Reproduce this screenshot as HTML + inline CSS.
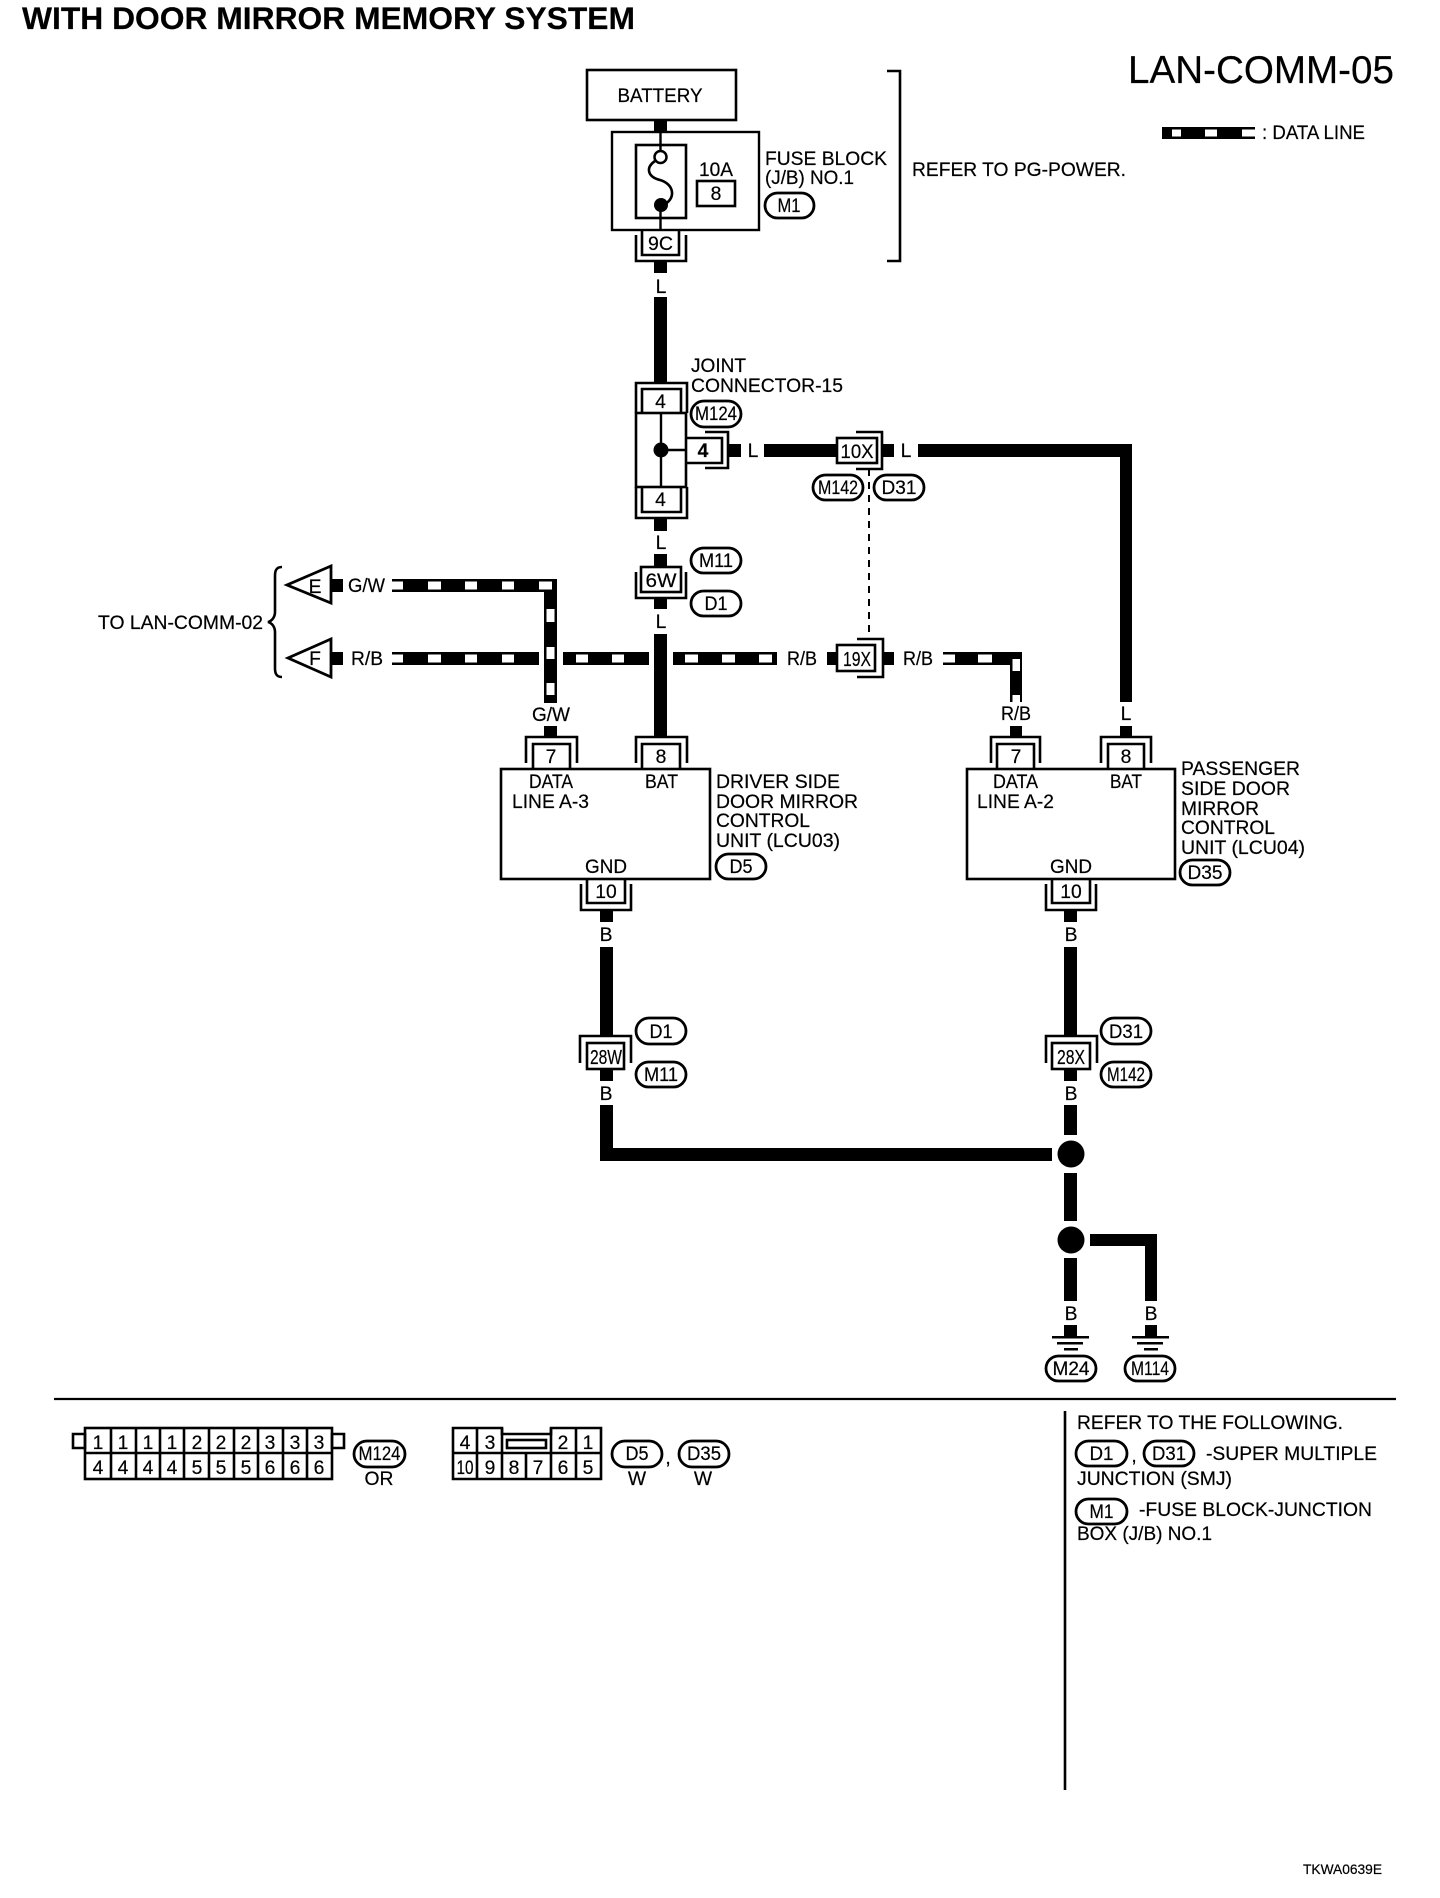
<!DOCTYPE html>
<html><head><meta charset="utf-8"><title>LAN-COMM-05</title>
<style>
html,body{margin:0;padding:0;background:#fff}
svg{display:block}
text{font-family:"Liberation Sans",Arial,sans-serif;font-size:19.3px;fill:#000;stroke:#000;stroke-width:.2}
.m{text-anchor:middle}
.l{fill:none;stroke:#000;stroke-width:2.6}
.p{fill:#fff;stroke:#000;stroke-width:2.8}
.t{fill:none;stroke:#000;stroke-width:2.4}
</style></head><body>
<svg xmlns="http://www.w3.org/2000/svg" width="1440" height="1898" viewBox="0 0 1440 1898">
<rect width="1440" height="1898" fill="#fff"/>
<text x="22" y="29" style="font-size:31.5px;font-weight:bold" textLength="613" lengthAdjust="spacingAndGlyphs">WITH DOOR MIRROR MEMORY SYSTEM</text>
<text x="1128" y="83" style="font-size:38.5px" textLength="266" lengthAdjust="spacingAndGlyphs">LAN-COMM-05</text>
<!-- legend -->
<rect x="1162" y="127" width="93" height="12" fill="#000"/>
<rect x="1172" y="129.500" width="9" height="7" fill="#fff"/><rect x="1205" y="129.500" width="12" height="7" fill="#fff"/><rect x="1242" y="129.500" width="14" height="7" fill="#fff"/>
<text x="1262" y="139" textLength="103" lengthAdjust="spacingAndGlyphs">: DATA LINE</text>

<!-- solid wires -->
<g fill="#000">
<rect x="654" y="120" width="13" height="12"/>
<rect x="654" y="261" width="13" height="12"/>
<rect x="654" y="297" width="13" height="86"/>
<rect x="654" y="518" width="13" height="13"/>
<rect x="654" y="554" width="13" height="13"/>
<rect x="654" y="598" width="13" height="11"/>
<rect x="654" y="634" width="13" height="103"/>
<rect x="728" y="444" width="13" height="13"/>
<rect x="764" y="444" width="73" height="13"/>
<rect x="882" y="444" width="12" height="13"/>
<rect x="918" y="444" width="214" height="13"/>
<rect x="1120" y="444" width="12" height="258"/>
<rect x="1120" y="726" width="12" height="11"/>
<rect x="331" y="579" width="12" height="13"/>
<rect x="331" y="652" width="12" height="13"/>
<rect x="827" y="652" width="10" height="13"/>
<rect x="883" y="652" width="11" height="13"/>
<rect x="544" y="726" width="13" height="11"/>
<rect x="1010" y="726" width="12" height="11"/>
<!-- lower wires -->
<rect x="600" y="910" width="13" height="12"/>
<rect x="600" y="947" width="13" height="90"/>
<rect x="600" y="1069" width="13" height="12"/>
<rect x="600" y="1105" width="13" height="56"/>
<rect x="600" y="1148" width="452" height="13"/>
<rect x="1064" y="910" width="13" height="12"/>
<rect x="1064" y="947" width="13" height="90"/>
<rect x="1064" y="1069" width="13" height="12"/>
<rect x="1064" y="1105" width="13" height="30"/>
<rect x="1064" y="1173" width="13" height="48"/>
<rect x="1064" y="1258" width="13" height="43"/>
<rect x="1064" y="1325" width="13" height="12"/>
<rect x="1090" y="1234" width="67" height="12"/>
<rect x="1145" y="1234" width="12" height="67"/>
<rect x="1145" y="1325" width="12" height="12"/>
<ellipse cx="1071" cy="1154" rx="13.500" ry="13.500"/>
<ellipse cx="1071" cy="1240" rx="13.500" ry="13.500"/>
<!-- ground -->
<rect x="1052" y="1336" width="37" height="2.500"/><rect x="1057" y="1342" width="26" height="2.500"/><rect x="1064" y="1348" width="14" height="2.500"/>
<rect x="1132" y="1336" width="37" height="2.500"/><rect x="1137" y="1342" width="26" height="2.500"/><rect x="1144" y="1348" width="14" height="2.500"/>
<!-- data lines black -->
<rect x="392" y="579" width="165" height="13"/>
<rect x="544" y="579" width="13" height="124"/>
<rect x="392" y="652" width="147" height="13"/>
<rect x="563" y="652" width="86" height="13"/>
<rect x="673" y="652" width="104" height="13"/>
<rect x="760" y="652" width="17" height="13"/>
<rect x="943" y="652" width="79" height="13"/>
<rect x="1010" y="652" width="12" height="50"/>
</g>
<!-- data line white squares -->
<g fill="#fff">
<rect x="390" y="581.500" width="13" height="8"/><rect x="428" y="581.500" width="13" height="8"/><rect x="465" y="581.500" width="12" height="8"/><rect x="502" y="581.500" width="12" height="8"/><rect x="539" y="581.500" width="13" height="8"/>
<rect x="546.500" y="609" width="8" height="13"/><rect x="546.500" y="647" width="8" height="12"/><rect x="546.500" y="683" width="8" height="12"/>
<rect x="390" y="654.500" width="13" height="8"/><rect x="428" y="654.500" width="13" height="8"/><rect x="465" y="654.500" width="12" height="8"/><rect x="502" y="654.500" width="12" height="8"/>
<rect x="576" y="654.500" width="12" height="8"/><rect x="612" y="654.500" width="12" height="8"/>
<rect x="685" y="654.500" width="13" height="8"/><rect x="722" y="654.500" width="13" height="8"/><rect x="759" y="654.500" width="13" height="8"/>
<rect x="941" y="654.500" width="14" height="8"/><rect x="978" y="654.500" width="14" height="8"/>
<rect x="1012.500" y="659" width="7.500" height="12"/><rect x="1012.500" y="695" width="7.500" height="8"/>
</g>

<!-- battery and fuse block -->
<rect x="587" y="70" width="149" height="50" class="l" fill="none"/>
<text x="660" y="102" class="m" textLength="85" lengthAdjust="spacingAndGlyphs">BATTERY</text>
<rect x="612" y="132" width="147" height="98" class="t"/>
<rect x="636" y="145" width="50" height="73" class="l"/>
<path d="M660.500 132V151M660.500 210V230" class="t"/>
<circle cx="660.500" cy="157" r="6" fill="#fff" stroke="#000" stroke-width="2.500"/>
<circle cx="661" cy="205" r="7" fill="#000"/>
<path d="M655 161C645 168 648 177 660 180C674 184 676 198 665 204" class="l"/>
<text x="716" y="176" class="m" textLength="34" lengthAdjust="spacingAndGlyphs">10A</text>
<rect x="697" y="181" width="38" height="25" class="l"/>
<text x="716" y="200" class="m">8</text>
<text x="765" y="165" textLength="122" lengthAdjust="spacingAndGlyphs">FUSE BLOCK</text>
<text x="765" y="184" textLength="89" lengthAdjust="spacingAndGlyphs">(J/B) NO.1</text>
<rect x="765" y="193" width="49" height="25" rx="12.500" class="p"/>
<text x="789" y="212" class="m" textLength="23" lengthAdjust="spacingAndGlyphs">M1</text>
<path d="M887 71H900V261H887" class="l"/>
<text x="912" y="176" textLength="214" lengthAdjust="spacingAndGlyphs">REFER TO PG-POWER.</text>
<!-- 9C -->
<path d="M642 230V255H679V230" class="l"/>
<path d="M636 235V261H686V235" class="l"/>
<text x="660.500" y="250" class="m" textLength="25" lengthAdjust="spacingAndGlyphs">9C</text>
<text x="661" y="293" class="m">L</text>

<!-- joint connector -->
<text x="691" y="372" textLength="55" lengthAdjust="spacingAndGlyphs">JOINT</text>
<text x="691" y="392" textLength="152" lengthAdjust="spacingAndGlyphs">CONNECTOR-15</text>
<path d="M636 413V383H687V413" class="l"/>
<path d="M642 413V389H681V413" class="l"/>
<text x="660.500" y="408" class="m">4</text>
<rect x="636" y="413" width="50" height="74" class="l"/>
<path d="M661 413V487M661 450H687" class="t"/>
<circle cx="661" cy="450" r="7.500" fill="#000"/>
<path d="M642 487V512H681V487" class="l"/>
<path d="M636 487V518H687V487" class="l"/>
<text x="660.500" y="506" class="m">4</text>
<path d="M687 438H722V463H687" class="l"/>
<path d="M705 432H728V468H705" class="l"/>
<text x="703" y="457" class="m" style="font-weight:bold">4</text>
<text x="753" y="457" class="m">L</text>
<rect x="691" y="401" width="50" height="26" rx="13" class="p"/>
<text x="716" y="420" class="m" textLength="42" lengthAdjust="spacingAndGlyphs">M124</text>

<!-- 10X -->
<rect x="837" y="438" width="40" height="25" fill="#fff" class="l"/>
<path d="M856 432H882V469H856" class="l"/>
<text x="857" y="458" class="m" textLength="33" lengthAdjust="spacingAndGlyphs">10X</text>
<text x="906" y="457" class="m">L</text>
<rect x="813" y="475" width="50" height="25" rx="12.500" class="p"/>
<text x="838" y="494" class="m" textLength="40" lengthAdjust="spacingAndGlyphs">M142</text>
<rect x="874" y="475" width="50" height="25" rx="12.500" class="p"/>
<text x="899" y="494" class="m" textLength="35" lengthAdjust="spacingAndGlyphs">D31</text>
<path d="M869 469V639" fill="none" stroke="#000" stroke-width="2" stroke-dasharray="7 6"/>

<!-- 6W -->
<text x="661" y="549" class="m">L</text>
<rect x="641" y="567" width="40" height="25" fill="#fff" class="l"/>
<path d="M636 572V598H686V572" class="l"/>
<text x="661" y="587" class="m" textLength="31" lengthAdjust="spacingAndGlyphs">6W</text>
<text x="661" y="628" class="m">L</text>
<rect x="691" y="548" width="50" height="25" rx="12.500" class="p"/>
<text x="716" y="567" class="m" textLength="34" lengthAdjust="spacingAndGlyphs">M11</text>
<rect x="691" y="591" width="50" height="25" rx="12.500" class="p"/>
<text x="716" y="610" class="m" textLength="23" lengthAdjust="spacingAndGlyphs">D1</text>

<!-- left triangles -->
<path d="M282 567C276 567 275 571 275 576V612C275 617 272 621 268 622C272 623 275 627 275 632V668C275 673 276 677 282 677" class="l"/>
<text x="98" y="629" textLength="165" lengthAdjust="spacingAndGlyphs">TO LAN-COMM-02</text>
<path d="M331 566L287 585L331 603Z" class="p"/>
<path d="M331 639L288 658L331 677Z" class="p"/>
<text x="315" y="593" class="m">E</text>
<text x="315" y="665" class="m">F</text>
<text x="348" y="592" textLength="37" lengthAdjust="spacingAndGlyphs">G/W</text>
<text x="351" y="665" textLength="32" lengthAdjust="spacingAndGlyphs">R/B</text>
<text x="787" y="665" textLength="30" lengthAdjust="spacingAndGlyphs">R/B</text>
<text x="903" y="665" textLength="30" lengthAdjust="spacingAndGlyphs">R/B</text>
<text x="551" y="721" class="m" textLength="38" lengthAdjust="spacingAndGlyphs">G/W</text>
<text x="1016" y="720" class="m" textLength="30" lengthAdjust="spacingAndGlyphs">R/B</text>
<text x="1126" y="720" class="m">L</text>

<!-- 19X -->
<rect x="837" y="645" width="38" height="26" fill="#fff" class="l"/>
<path d="M857 639H883V677H857" class="l"/>
<text x="857" y="666" class="m" style="font-size:20px" textLength="28" lengthAdjust="spacingAndGlyphs">19X</text>

<!-- driver unit -->
<path d="M526 763V737H577V763" class="l"/>
<path d="M533 769V744H570V769" class="l"/>
<text x="551" y="763" class="m">7</text>
<path d="M636 763V737H687V763" class="l"/>
<path d="M642 769V744H680V769" class="l"/>
<text x="661" y="763" class="m">8</text>
<rect x="501" y="769" width="209" height="110" class="l"/>
<text x="529" y="788" textLength="44" lengthAdjust="spacingAndGlyphs">DATA</text>
<text x="645" y="788" textLength="33" lengthAdjust="spacingAndGlyphs">BAT</text>
<text x="512" y="808" textLength="77" lengthAdjust="spacingAndGlyphs">LINE A-3</text>
<text x="585" y="873" textLength="42" lengthAdjust="spacingAndGlyphs">GND</text>
<path d="M587 879V903H625V879" class="l"/>
<path d="M581 884V910H631V884" class="l"/>
<text x="606" y="898" class="m">10</text>
<text x="606" y="941" class="m">B</text>
<text x="716" y="788" textLength="124" lengthAdjust="spacingAndGlyphs">DRIVER SIDE</text>
<text x="716" y="808" textLength="142" lengthAdjust="spacingAndGlyphs">DOOR MIRROR</text>
<text x="716" y="827" textLength="94" lengthAdjust="spacingAndGlyphs">CONTROL</text>
<text x="716" y="847" textLength="124" lengthAdjust="spacingAndGlyphs">UNIT (LCU03)</text>
<rect x="716" y="854" width="50" height="25" rx="12.500" class="p"/>
<text x="741" y="873" class="m" textLength="23" lengthAdjust="spacingAndGlyphs">D5</text>

<!-- passenger unit -->
<path d="M991 763V737H1040V763" class="l"/>
<path d="M997 769V744H1034V769" class="l"/>
<text x="1016" y="763" class="m">7</text>
<path d="M1101 763V737H1151V763" class="l"/>
<path d="M1108 769V744H1144V769" class="l"/>
<text x="1126" y="763" class="m">8</text>
<rect x="967" y="769" width="208" height="110" class="l"/>
<text x="993" y="788" textLength="45" lengthAdjust="spacingAndGlyphs">DATA</text>
<text x="1110" y="788" textLength="32" lengthAdjust="spacingAndGlyphs">BAT</text>
<text x="977" y="808" textLength="77" lengthAdjust="spacingAndGlyphs">LINE A-2</text>
<text x="1050" y="873" textLength="42" lengthAdjust="spacingAndGlyphs">GND</text>
<path d="M1052 879V903H1090V879" class="l"/>
<path d="M1046 884V910H1096V884" class="l"/>
<text x="1071" y="898" class="m">10</text>
<text x="1071" y="941" class="m">B</text>
<text x="1181" y="775" textLength="119" lengthAdjust="spacingAndGlyphs">PASSENGER</text>
<text x="1181" y="795" textLength="109" lengthAdjust="spacingAndGlyphs">SIDE DOOR</text>
<text x="1181" y="815" textLength="78" lengthAdjust="spacingAndGlyphs">MIRROR</text>
<text x="1181" y="834" textLength="94" lengthAdjust="spacingAndGlyphs">CONTROL</text>
<text x="1181" y="854" textLength="124" lengthAdjust="spacingAndGlyphs">UNIT (LCU04)</text>
<rect x="1180" y="860" width="50" height="25" rx="12.500" class="p"/>
<text x="1205" y="879" class="m" textLength="35" lengthAdjust="spacingAndGlyphs">D35</text>

<!-- 28W/28X -->
<path d="M580 1063V1036H631V1063" class="l"/>
<rect x="587" y="1043" width="37" height="26" fill="#fff" class="l"/>
<text x="606" y="1064" class="m" style="font-size:20px" textLength="32" lengthAdjust="spacingAndGlyphs">28W</text>
<text x="606" y="1100" class="m">B</text>
<rect x="636" y="1018" width="50" height="26" rx="13" class="p"/>
<text x="661" y="1038" class="m" textLength="23" lengthAdjust="spacingAndGlyphs">D1</text>
<rect x="636" y="1062" width="50" height="25" rx="12.500" class="p"/>
<text x="661" y="1081" class="m" textLength="34" lengthAdjust="spacingAndGlyphs">M11</text>
<path d="M1046 1063V1036H1097V1063" class="l"/>
<rect x="1052" y="1043" width="38" height="26" fill="#fff" class="l"/>
<text x="1071" y="1064" class="m" style="font-size:20px" textLength="28" lengthAdjust="spacingAndGlyphs">28X</text>
<text x="1071" y="1100" class="m">B</text>
<rect x="1101" y="1018" width="50" height="26" rx="13" class="p"/>
<text x="1126" y="1038" class="m" textLength="34" lengthAdjust="spacingAndGlyphs">D31</text>
<rect x="1101" y="1062" width="50" height="25" rx="12.500" class="p"/>
<text x="1126" y="1081" class="m" textLength="38" lengthAdjust="spacingAndGlyphs">M142</text>
<text x="1071" y="1320" class="m">B</text>
<text x="1151" y="1320" class="m">B</text>
<rect x="1046" y="1356" width="50" height="25" rx="12.500" class="p"/>
<text x="1071" y="1375" class="m" textLength="37" lengthAdjust="spacingAndGlyphs">M24</text>
<rect x="1125" y="1356" width="50" height="25" rx="12.500" class="p"/>
<text x="1150" y="1375" class="m" textLength="38" lengthAdjust="spacingAndGlyphs">M114</text>

<!-- separators -->
<path d="M54 1399H1396" fill="none" stroke="#000" stroke-width="2.200"/>
<path d="M1065 1411V1790" class="l"/>

<!-- M124 connector face -->
<path d="M73 1434H85V1448H73ZM332 1434H344V1448H332Z" class="l"/>
<rect x="85" y="1428" width="247" height="51" fill="#fff" class="l"/>
<path d="M85 1453H332M111 1428V1479M136 1428V1479M160 1428V1479M184 1428V1479M209 1428V1479M234 1428V1479M258 1428V1479M283 1428V1479M307 1428V1479" class="l"/>
<g class="m">
<text x="98" y="1449">1</text><text x="123" y="1449">1</text><text x="148" y="1449">1</text><text x="172" y="1449">1</text><text x="197" y="1449">2</text><text x="221" y="1449">2</text><text x="246" y="1449">2</text><text x="270" y="1449">3</text><text x="295" y="1449">3</text><text x="319" y="1449">3</text>
<text x="98" y="1474">4</text><text x="123" y="1474">4</text><text x="148" y="1474">4</text><text x="172" y="1474">4</text><text x="197" y="1474">5</text><text x="221" y="1474">5</text><text x="246" y="1474">5</text><text x="270" y="1474">6</text><text x="295" y="1474">6</text><text x="319" y="1474">6</text>
</g>
<rect x="354" y="1441" width="51" height="26" rx="13" class="p"/>
<text x="379.500" y="1460" class="m" textLength="42" lengthAdjust="spacingAndGlyphs">M124</text>
<text x="379" y="1485" class="m">OR</text>

<!-- D5/D35 connector face -->
<path d="M453 1428H502V1434H551V1428H601V1479H453Z" class="l"/>
<path d="M453 1453H601M477 1428V1479M502 1428V1479M526 1453V1479M551 1428V1479M576 1428V1479" class="l"/>
<rect x="507" y="1440" width="39" height="8" class="l"/>
<g class="m">
<text x="465" y="1449">4</text><text x="490" y="1449">3</text><text x="563" y="1449">2</text><text x="588" y="1449">1</text>
<text x="465" y="1474" textLength="17" lengthAdjust="spacingAndGlyphs">10</text><text x="490" y="1474">9</text><text x="514" y="1474">8</text><text x="538" y="1474">7</text><text x="563" y="1474">6</text><text x="588" y="1474">5</text>
</g>
<rect x="612" y="1441" width="50" height="26" rx="13" class="p"/>
<text x="637" y="1460" class="m" textLength="23" lengthAdjust="spacingAndGlyphs">D5</text>
<text x="668" y="1464" class="m">,</text>
<rect x="679" y="1441" width="50" height="26" rx="13" class="p"/>
<text x="704" y="1460" class="m" textLength="34" lengthAdjust="spacingAndGlyphs">D35</text>
<text x="637" y="1485" class="m">W</text>
<text x="703" y="1485" class="m">W</text>

<!-- notes -->
<text x="1077" y="1429" textLength="266" lengthAdjust="spacingAndGlyphs">REFER TO THE FOLLOWING.</text>
<rect x="1076" y="1441" width="51" height="25" rx="12.500" class="p"/>
<text x="1101.500" y="1460" class="m" textLength="24" lengthAdjust="spacingAndGlyphs">D1</text>
<text x="1134" y="1462" class="m">,</text>
<rect x="1144" y="1441" width="50" height="25" rx="12.500" class="p"/>
<text x="1169" y="1460" class="m" textLength="34" lengthAdjust="spacingAndGlyphs">D31</text>
<text x="1206" y="1460" textLength="171" lengthAdjust="spacingAndGlyphs">-SUPER MULTIPLE</text>
<text x="1077" y="1485" textLength="155" lengthAdjust="spacingAndGlyphs">JUNCTION (SMJ)</text>
<rect x="1076" y="1499" width="51" height="25" rx="12.500" class="p"/>
<text x="1101.500" y="1518" class="m" textLength="24" lengthAdjust="spacingAndGlyphs">M1</text>
<text x="1139" y="1516" textLength="233" lengthAdjust="spacingAndGlyphs">-FUSE BLOCK-JUNCTION</text>
<text x="1077" y="1540" textLength="135" lengthAdjust="spacingAndGlyphs">BOX (J/B) NO.1</text>

<text x="1303" y="1874" style="font-size:13.700px" textLength="79" lengthAdjust="spacingAndGlyphs">TKWA0639E</text>
</svg>
</body></html>
